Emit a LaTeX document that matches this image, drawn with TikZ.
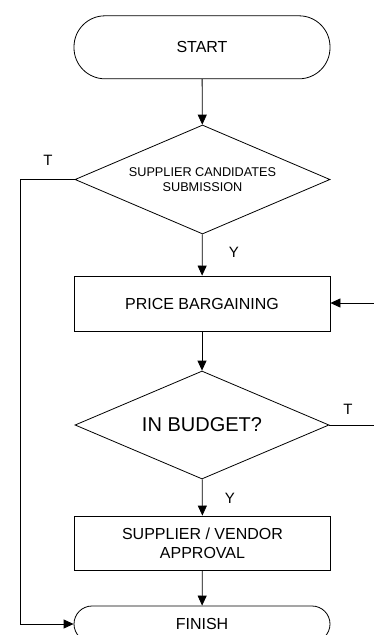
\documentclass[tikz,border=0pt]{standalone}
\usepackage{fontspec}
\setmainfont{Liberation Sans}
\usetikzlibrary{shapes.geometric,arrows.meta}
\begin{document}
\begin{tikzpicture}[x=1pt,y=-1pt,
  line width=0.8pt,
  >={Triangle[length=10pt,width=9pt]},
  term/.style={draw,rectangle,rounded corners=#1,minimum width=256pt,inner sep=0pt,align=center,font=\fontsize{16}{19}\selectfont},
  procbox/.style={draw,rectangle,minimum width=256pt,inner sep=0pt,align=center,font=\fontsize{16}{19}\selectfont},
  decision/.style={draw,diamond,inner sep=0pt,align=center},
  lbl/.style={font=\fontsize{15}{18}\selectfont,inner sep=0pt}
]
\useasboundingbox (0,0) rectangle (374,635);
\node[term=31pt,minimum height=63pt] (start) at (202,47.3) {START};
\node[decision,minimum width=255pt,minimum height=109pt,aspect=2.34,font=\fontsize{12.7}{15}\selectfont] (d1) at (202.5,179.5) {SUPPLIER CANDIDATES\\SUBMISSION};
\node[procbox,minimum height=55pt] (price) at (202,303.5) {PRICE BARGAINING};
\node[decision,minimum width=254pt,minimum height=108pt,aspect=2.35,font=\fontsize{20}{24}\selectfont] (d2) at (202,425) {IN BUDGET?};
\node[procbox,minimum height=54pt] (approve) at (202.5,543) {SUPPLIER / VENDOR\\APPROVAL};
\node[term=18pt,minimum height=36pt] (finish) at (202,624) {FINISH};

\coordinate (lc1) at (20,179.5);
\coordinate (lc2) at (20,624);
\coordinate (rin) at (374,303);
\coordinate (rout) at (374,425);

\draw[->] (start) -- (d1);
\draw[->] (d1) -- (price);
\draw[->] (price) -- (d2);
\draw[->] (d2) -- (approve);
\draw[->] (approve) -- (finish);
\draw[->] (d1.west) -- (lc1) -- (lc2) -- (finish.west);
\draw[->] (rin) -- (rin -| price.east);
\draw (d2.east) -- (rout);

\node[lbl] (t1) at (48,160) {T};
\node[lbl] (y1) at (234,252) {Y};
\node[lbl] (t2) at (348,409) {T};
\node[lbl] (y2) at (230,498) {Y};
\end{tikzpicture}
\end{document}
